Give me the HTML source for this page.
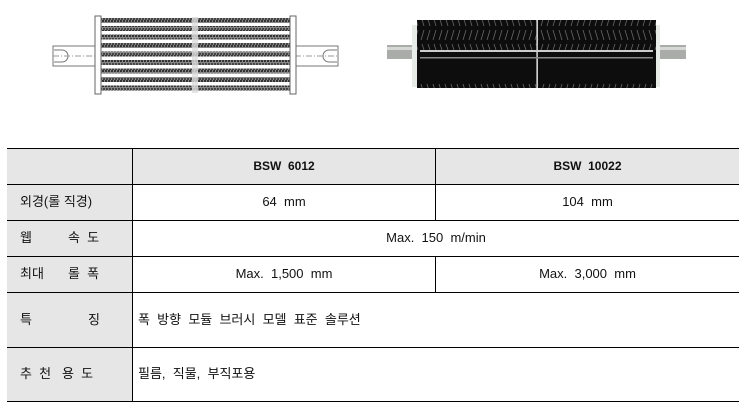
<!DOCTYPE html>
<html><head><meta charset="utf-8"><style>
body{margin:0;width:750px;height:411px;background:#fff;position:relative;overflow:hidden;font-family:"Liberation Sans","Noto Sans CJK KR",sans-serif;font-size:13px;color:#111}
.a{position:absolute}
.h{position:absolute;height:1px;background:#000;left:7px;width:732px}
.v{position:absolute;width:1px;background:#000}
.g{position:absolute;background:#e6e6e6}
.t{position:absolute;white-space:pre;line-height:15px}
.c{text-align:center}
</style></head><body>
<svg class="a" style="left:0;top:0" width="750" height="110">
<defs>
<pattern id="hp" width="3" height="5" patternUnits="userSpaceOnUse">
<rect width="3" height="5" fill="#888"/><rect width="2" height="2" fill="#333"/><rect x="1" y="3" width="2" height="2" fill="#444"/>
</pattern>
<pattern id="br" width="6" height="68" patternUnits="userSpaceOnUse">
<rect width="6" height="68" fill="#0d0d0d"/>
<path d="M1 16 l3 10 M1 40 l3 -10 M2 44 l2 6" stroke="#666" stroke-width="0.8"/>
</pattern>
<pattern id="br2" width="6" height="68" patternUnits="userSpaceOnUse">
<rect width="6" height="68" fill="#0d0d0d"/>
<path d="M4 16 l-3 10 M4 40 l-3 -10 M3 44 l-2 6" stroke="#666" stroke-width="0.8"/>
</pattern>
</defs>
<rect x="53" y="46" width="42" height="20" fill="#fff" stroke="#777"/>
<rect x="296" y="46" width="42" height="20" fill="#fff" stroke="#777"/>
<path d="M54 50 h8 a5 5 0 0 1 0 12 h-8" fill="none" stroke="#777"/>
<path d="M337 50 h-8 a5 5 0 0 0 0 12 h8" fill="none" stroke="#777"/>
<line x1="53" y1="56" x2="338" y2="56" stroke="#999" stroke-dasharray="6,2,1,2"/>
<g>
<rect x="101" y="17" width="189" height="76" fill="#fff"/>
<rect x="101" y="18" width="189" height="5" fill="url(#hp)"/>
<rect x="101" y="26" width="189" height="5" fill="url(#hp)"/>
<rect x="101" y="34.5" width="189" height="5" fill="url(#hp)"/>
<rect x="101" y="43" width="189" height="5" fill="url(#hp)"/>
<rect x="101" y="51.5" width="189" height="5" fill="url(#hp)"/>
<rect x="101" y="60" width="189" height="5" fill="url(#hp)"/>
<rect x="101" y="68.5" width="189" height="5" fill="url(#hp)"/>
<rect x="101" y="77" width="189" height="5" fill="url(#hp)"/>
<rect x="101" y="85.5" width="189" height="5" fill="url(#hp)"/>
<rect x="192" y="17" width="6" height="76" fill="#ddd" opacity="0.8"/>
</g>
<rect x="95" y="16" width="6" height="78" fill="#fff" stroke="#666"/>
<rect x="290" y="16" width="6" height="78" fill="#fff" stroke="#666"/>
<rect x="387" y="45" width="299" height="14" fill="#a9aca9"/>
<rect x="387" y="47" width="299" height="3" fill="#d6d8d6"/>
<rect x="412" y="25" width="10" height="62" fill="#e8ece8"/>
<rect x="650" y="25" width="10" height="62" fill="#e8ece8"/>
<rect x="417" y="20" width="120" height="68" fill="url(#br)"/>
<rect x="538" y="20" width="118" height="68" fill="url(#br2)"/>
<line x1="537" y1="20" x2="537" y2="88" stroke="#bbb" stroke-width="1.5"/>
<rect x="420" y="50" width="233" height="2" fill="#ccc"/>
<rect x="420" y="57" width="233" height="1.5" fill="#888"/>
</svg>

<div class="g" style="left:7px;top:149px;width:732px;height:35px"></div>
<div class="g" style="left:7px;top:184px;width:125px;height:217px"></div>

<div class="h" style="top:148px"></div>
<div class="h" style="top:184px"></div>
<div class="h" style="top:220px"></div>
<div class="h" style="top:256px"></div>
<div class="h" style="top:292px"></div>
<div class="h" style="top:347px"></div>
<div class="h" style="top:401px"></div>
<div class="v" style="left:132px;top:148px;height:253px"></div>
<div class="v" style="left:435px;top:148px;height:36px"></div>
<div class="v" style="left:435px;top:184px;height:36px"></div>
<div class="v" style="left:435px;top:256px;height:36px"></div>

<div class="t c" style="left:133px;top:159px;width:302px;font-weight:bold;font-size:12px">BSW  6012</div>
<div class="t c" style="left:436px;top:159px;width:303px;font-weight:bold;font-size:12px">BSW  10022</div>

<div class="t" style="left:20px;top:194px">외경(롤 직경)</div>
<div class="t c" style="left:133px;top:194px;width:302px">64  mm</div>
<div class="t c" style="left:436px;top:194px;width:303px">104  mm</div>

<div class="t" style="left:20px;top:230px">웹</div>
<div class="t" style="left:68px;top:230px">속  도</div>
<div class="t c" style="left:133px;top:230px;width:606px">Max.  150  m/min</div>

<div class="t" style="left:20px;top:266px">최대</div>
<div class="t" style="left:68px;top:266px">롤  폭</div>
<div class="t c" style="left:133px;top:266px;width:302px">Max.  1,500  mm</div>
<div class="t c" style="left:436px;top:266px;width:303px">Max.  3,000  mm</div>

<div class="t" style="left:20px;top:312px">특</div>
<div class="t" style="left:88px;top:312px">징</div>
<div class="t" style="left:138px;top:312px">폭  방향  모듈  브러시  모델  표준  솔루션</div>

<div class="t" style="left:20px;top:366px">추  천   용  도</div>
<div class="t" style="left:138px;top:366px">필름,  직물,  부직포용</div>
</body></html>
